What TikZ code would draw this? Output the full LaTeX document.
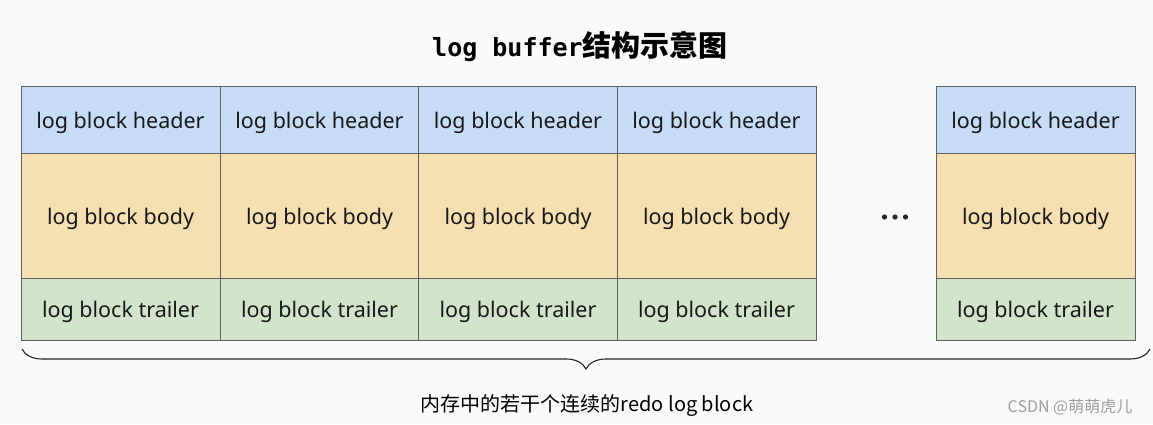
\documentclass[tikz,border=0pt]{standalone}
\usepackage{fontspec}
\setmainfont{Noto Sans}
\newfontfamily\cjk{Noto Sans CJK SC}
\newfontfamily\titlemono{DejaVu Sans Mono}
\usetikzlibrary{decorations.pathreplacing}

\definecolor{hdrblue}{RGB}{199,220,246}
\definecolor{bodytan}{RGB}{246,223,177}
\definecolor{trlgreen}{RGB}{211,228,205}
\definecolor{cellline}{RGB}{95,95,95}
\definecolor{pagebg}{RGB}{250,250,250}

\begin{document}
\begin{tikzpicture}[x=1pt, y=-1pt,
    cell/.style={draw=cellline, line width=0.8pt, minimum width=199pt, inner sep=0pt,
                 text height=22pt, text depth=5pt,
                 font=\fontsize{21.5}{25}\selectfont, text=black!90},
    hdrcell/.style={cell, fill=hdrblue, minimum height=67pt},
    bodycell/.style={cell, fill=bodytan, minimum height=125pt},
    trlcell/.style={cell, fill=trlgreen, minimum height=62pt}]

        % background and margins
        \useasboundingbox[fill=pagebg] (0,0) rectangle (1153,424);

        % ------------------ Title ------------------
        \node (title) at (580,46) {\bfseries\fontsize{25}{28}\titlemono log buffer\cjk\fontsize{29}{32}\selectfont 结构示意图};

        % ------------------ Log blocks ------------------

        % Headers
        \node[hdrcell] (h1) at (120.5,119.5) {log block header};
        \node[hdrcell] (h2) at (319.5,119.5) {log block header};
        \node[hdrcell] (h3) at (518,119.5) {log block header};
        \node[hdrcell] (h4) at (716.5,119.5) {log block header};
        \node[hdrcell] (h5) at (1035.5,119.5) {log block header};

        % Bodies
        \node[bodycell] (b1) at (120.5,215.5) {log block body};
        \node[bodycell] (b2) at (319.5,215.5) {log block body};
        \node[bodycell] (b3) at (518,215.5) {log block body};
        \node[bodycell] (b4) at (716.5,215.5) {log block body};
        \node[bodycell] (b5) at (1035.5,215.5) {log block body};

        % Trailers
        \node[trlcell] (t1) at (120.5,309) {log block trailer};
        \node[trlcell] (t2) at (319.5,309) {log block trailer};
        \node[trlcell] (t3) at (518,309) {log block trailer};
        \node[trlcell] (t4) at (716.5,309) {log block trailer};
        \node[trlcell] (t5) at (1035.5,309) {log block trailer};

        % Ellipsis
        \fill[black!85] (884.5,217) circle (2.6) (895,217) circle (2.6) (905.5,217) circle (2.6);

        % ------------------ Brace ------------------
        \coordinate (braceL) at (22,349);
        \coordinate (braceR) at (1150,349);
        \draw[decorate, decoration={brace, amplitude=20pt}, line width=1.1pt, black!85] (braceR) -- (braceL);

        \node (caption) at (587,406) {\cjk\fontsize{20}{24}\selectfont 内存中的若干个连续的redo log block};

        % Watermark
        \node[text=black!38] (mark) at (1070,407) {\cjk\fontsize{16}{20}\selectfont CSDN @萌萌虎儿};

    \end{tikzpicture}
\end{document}
